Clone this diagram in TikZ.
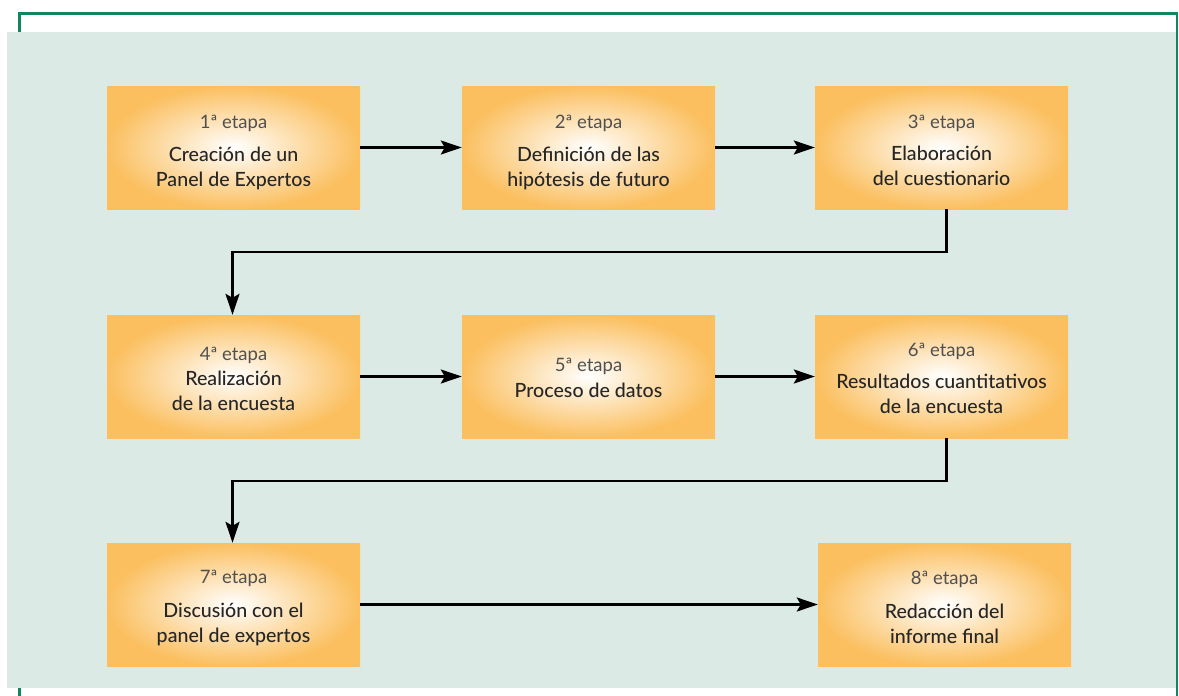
\documentclass[tikz,border=0pt]{standalone}
\usepackage{fontspec}
\IfFontExistsTF{Lato Medium}{\setmainfont{Lato Medium}}{\setmainfont{Lato}}
\newfontfamily\lightf{Lato}
\usetikzlibrary{arrows.meta}
\definecolor{framegreen}{HTML}{12875E}
\definecolor{bggreen}{HTML}{DCEAE5}
\definecolor{boxorange}{HTML}{FBBF5F}
\definecolor{txtdark}{HTML}{262626}
\definecolor{txtgray}{HTML}{505050}
\tikzset{
  stagebox/.style={minimum width=253pt, minimum height=123pt, inner sep=0pt,
    shading=radial, inner color=white, outer color=boxorange},
  stagetext/.style={inner sep=0pt, align=center,
    font=\fontsize{19.6}{25}\selectfont, text=txtdark},
  arr/.style={line width=2.4pt, -{Stealth[length=21pt,width=14pt,inset=4pt]}},
}
\newcommand{\etapa}[2]{{\lightf\color{txtgray}\fontsize{18.5}{20}\selectfont #1ª etapa}\\[#2pt]}
\begin{document}
\begin{tikzpicture}[x=1pt,y=-1pt]
\useasboundingbox (0,0) rectangle (1179,696);
\draw[framegreen, line width=2.4pt] (19.5,710) -- (19.5,13.5) -- (1177,13.5) -- (1177,710);
\fill[bggreen] (7,32) rectangle (1175.5,688);
\node[stagebox] (b1) at (233.5,147.5) {};
\node[stagebox] (b2) at (588.5,147.5) {};
\node[stagebox] (b3) at (941.5,147.5) {};
\node[stagebox] (b4) at (233.5,376.5) {};
\node[stagebox] (b5) at (588.5,376.5) {};
\node[stagebox] (b6) at (941.5,376.5) {};
\node[stagebox] (b7) at (233.5,604.5) {};
\node[stagebox] (b8) at (944.5,604.5) {};
\node[stagetext] (t1) at ([yshift=-4.5pt]b1.center) {\etapa{1}{8}Creación de un\\Panel de Expertos};
\node[stagetext] (t2) at ([yshift=-4.5pt]b2.center) {\etapa{2}{8}Definición de las\\hipótesis de futuro};
\node[stagetext] (t3) at ([yshift=-3pt]b3.center) {\etapa{3}{7}Elaboración\\del cuestionario};
\node[stagetext] (t4) at ([yshift=-2.5pt]b4.center) {\etapa{4}{0}Realización\\de la encuesta};
\node[stagetext] (t5) at ([yshift=-1.5pt]b5.center) {\etapa{5}{1}Proceso de datos};
\node[stagetext] (t6) at ([yshift=-2pt]b6.center) {\etapa{6}{7}Resultados cuantitativos\\de la encuesta};
\node[stagetext] (t7) at ([yshift=-3pt]b7.center) {\etapa{7}{9}Discusión con el\\panel de expertos};
\node[stagetext] (t8) at ([yshift=-3pt]b8.center) {\etapa{8}{9}Redacción del\\informe final};
\draw[arr] (b1) -- (b2);
\draw[arr] (b2) -- (b3);
\draw[arr] ([xshift=5pt]b3.south) -- ++(0,43) -| ([xshift=-1pt]b4.north);
\draw[arr] (b4) -- (b5);
\draw[arr] (b5) -- (b6);
\draw[arr] ([xshift=5pt]b6.south) -- ++(0,43) -| ([xshift=-1pt]b7.north);
\draw[arr] (b7) -- (b8);
\end{tikzpicture}
\end{document}
